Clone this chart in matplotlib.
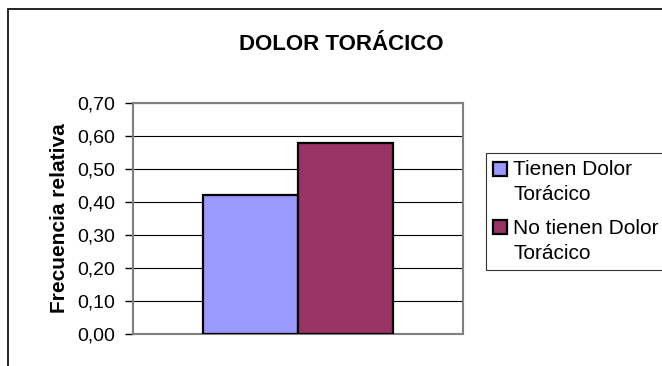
import matplotlib
matplotlib.use('Agg')
import matplotlib.pyplot as plt
from matplotlib.patches import Rectangle
from matplotlib.ticker import FuncFormatter
from matplotlib.legend_handler import HandlerPatch

# data
series = ['Tienen Dolor\nTorácico', 'No tienen Dolor\nTorácico']
values = [0.42, 0.58]
colors = ['#9999FF', '#993366']
yticks = [0.0, 0.1, 0.2, 0.3, 0.4, 0.5, 0.6, 0.7]

plt.rcParams['font.family'] = ['Liberation Sans', 'DejaVu Sans']

W, H = 662, 366
fig = plt.figure(figsize=(W / 100, H / 100), dpi=100)
fig.patch.set_facecolor('white')

# outer chart frame (runs off the right and bottom edge)
fig.patches.append(Rectangle((8 / W, -0.2), 1.2, 1.2 - 9 / H,
                             transform=fig.transFigure, fill=False,
                             edgecolor='black', linewidth=1.2))

ax = fig.add_axes([133 / W, (H - 334) / H, (463 - 133) / W, (334 - 103) / H])

bar_w = 0.288
offsets = [-bar_w / 2, bar_w / 2]
for val, col, lab, off in zip(values, colors, series, offsets):
    ax.bar(0 + off, val, width=bar_w, color=col, edgecolor='black',
           linewidth=1.6, label=lab, zorder=3)

ax.set_xlim(-0.5, 0.5)
ax.set_ylim(0, 0.7)
ax.set_yticks(yticks)
ax.yaxis.set_major_formatter(FuncFormatter(lambda v, p: f'{v:.2f}'.replace('.', ',')))
ax.set_xticks([])
ax.tick_params(axis='y', length=6, width=1, color='black', pad=7, labelsize=14)
ax.grid(axis='y', color='black', linewidth=0.8, zorder=0)
for s in ax.spines.values():
    s.set_color('#808080')
    s.set_linewidth(1.5)

ax.set_ylabel('Frecuencia relativa', fontsize=15, fontweight='bold', labelpad=6)

fig.text(341 / W, 1 - 45 / H, 'DOLOR TORÁCICO', ha='center', va='center',
         fontsize=16, fontweight='bold')


# legend square sits next to the first line of the two-line label
def top_square(legend, orig_handle, xdescent, ydescent, width, height, fontsize):
    return Rectangle((-xdescent, -ydescent + 10), width, height)


proxies = [Rectangle((0, 0), 1, 1, facecolor=c, edgecolor='black', linewidth=1.6)
           for c in colors]
leg = fig.legend(proxies, series, loc='upper left',
                 bbox_to_anchor=(486 / W, 1 - 153 / H),
                 bbox_transform=fig.transFigure, fontsize=15, frameon=True,
                 fancybox=False, edgecolor='black', handlelength=0.65,
                 handleheight=0.65, handletextpad=0.3, borderpad=0.35,
                 labelspacing=0.7, borderaxespad=0,
                 handler_map={Rectangle: HandlerPatch(patch_func=top_square)})
leg.get_frame().set_linewidth(0.8)
for t in leg.get_texts():
    t.set_linespacing(1.4)

fig.savefig('out.png', dpi=100)
